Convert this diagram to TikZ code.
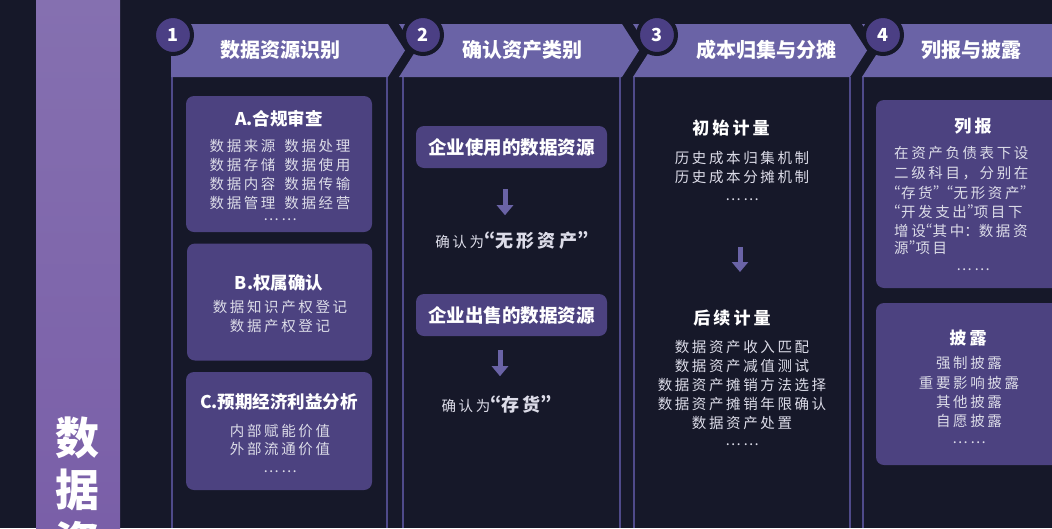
\documentclass[tikz,border=0pt]{standalone}
\usepackage{fontspec}
\setmainfont{Noto Sans CJK SC}
\newfontfamily\spaced{Noto Sans CJK SC}[LetterSpace=18]
\newfontfamily\pq{Noto Sans CJK SC}[LetterSpace=50,CharacterWidth=Proportional]
\newcommand\quoL{{\pq “}}
\newcommand\quoR{{\pq ”}}
\usetikzlibrary{arrows.meta}
\definecolor{bgc}{HTML}{161829}
\definecolor{barc}{HTML}{8570B0}
\definecolor{barlow}{HTML}{7A5FA8}
\definecolor{hdc}{HTML}{6A63A6}
\definecolor{cardc}{HTML}{4C4280}
\definecolor{numc}{HTML}{4B3F84}
\definecolor{linec}{HTML}{4F4A8A}
\definecolor{txtc}{HTML}{DCDCE8}

\begin{document}
\begin{tikzpicture}[x=1pt,y=-1pt,
    card/.style={fill=cardc,rounded corners=8pt,inner sep=0pt},
    num/.style={circle,fill=numc,draw=bgc,line width=4pt,minimum size=38pt,inner sep=0pt,
        text=white,font=\fontsize{18}{20}\selectfont\bfseries},
    head/.style={text=white,font=\fontsize{20}{24}\selectfont\bfseries},
    ttl/.style={text=white,font=\fontsize{17.5}{20}\selectfont\bfseries},
    sttl/.style={text=white,font=\spaced\fontsize{17}{20}\selectfont\bfseries},
    txt/.style={text=txtc,font=\spaced\fontsize{14.5}{19}\selectfont,inner sep=0pt},
    dn/.style={draw=hdc,line width=5pt,-{Triangle[width=16pt,length=10pt]}}]
    \useasboundingbox (0,0) rectangle (1052,528);
    \fill[bgc] (0,0) rectangle (1052,528);
    % left bar
    \shade[top color=barc,bottom color=barlow] (36,0) rectangle (120,528);
    \node[text=white,font=\fontsize{44}{52}\selectfont\bfseries,align=center,inner sep=0pt,anchor=north] (side) at (77.5,417) {数\\据\\资};
    % column lines
    \draw[linec,line width=1.5pt] (172,77)--(172,528);
    \draw[linec,line width=1.5pt] (387,77)--(387,528);
    \draw[linec,line width=1.5pt] (403,77)--(403,528);
    \draw[linec,line width=1.5pt] (620,77)--(620,528);
    \draw[linec,line width=1.5pt] (634,77)--(634,528);
    \draw[linec,line width=1.5pt] (850,77)--(850,528);
    \draw[linec,line width=1.5pt] (863,77)--(863,528);
    % headers
    \fill[hdc] (171,24)--(388,24)--(405,50.5)--(388,77)--(171,77)--cycle;
    \fill[hdc] (399,24)--(622,24)--(639,50.5)--(622,77)--(399,77)--(416,50.5)--cycle;
    \fill[hdc] (633,24)--(850,24)--(867,50.5)--(850,77)--(633,77)--(650,50.5)--cycle;
    \fill[hdc] (862,24)--(1060,24)--(1060,77)--(862,77)--(879,50.5)--cycle;
    \node[num] (n1) at (173,35) {1};
    \node[num] (n2) at (423,35) {2};
    \node[num] (n3) at (657,35) {3};
    \node[num] (n4) at (883,35) {4};
    \node[head] (h1) at (280,50) {数据资源识别};
    \node[head] (h2) at (522,50) {确认资产类别};
    \node[head] (h3) at (766,50) {成本归集与分摊};
    \node[head] (h4) at (971,50) {列报与披露};
    % column 1
    \node[card,minimum width=186pt,minimum height=136pt] (cardA) at (279,164) {};
    \node[ttl] (tA) at (279,119) {A.合规审查};
    \node[txt] (a1) at (280,146) {数据来源\hspace{9pt}数据处理};
    \node[txt] (a2) at (280,165) {数据存储\hspace{9pt}数据使用};
    \node[txt] (a3) at (280,184) {数据内容\hspace{9pt}数据传输};
    \node[txt] (a4) at (280,203) {数据管理\hspace{9pt}数据经营};
    \node[txt] (a5) at (280,220) {……};
    \node[card,minimum width=185pt,minimum height=117pt] (cardB) at (279.5,302) {};
    \node[ttl] (tB) at (279,283) {B.权属确认};
    \node[txt] (b1) at (280,307) {数据知识产权登记};
    \node[txt] (b2) at (280,326) {数据产权登记};
    \node[card,minimum width=186pt,minimum height=118pt] (cardC) at (279,431) {};
    \node[ttl] (tC) at (279,402) {C.预期经济利益分析};
    \node[txt] (c1) at (280,431) {内部赋能价值};
    \node[txt] (c2) at (280,449) {外部流通价值};
    \node[txt] (c3) at (280,472) {……};
    % column 2
    \node[card,minimum width=191pt,minimum height=42pt,ttl,font=\fontsize{18.5}{20}\selectfont\bfseries] (use) at (511.5,147) {企业使用的数据资源};
    \draw[dn] ([xshift=-6.5pt,yshift=-21pt]use.south) -- ++(0,26);
    \node[txt] (intang) at (512,240) {确认为{\bfseries\fontsize{18}{20}\selectfont\quoL 无形资产\quoR}};
    \node[card,minimum width=191pt,minimum height=42pt,ttl,font=\fontsize{18.5}{20}\selectfont\bfseries] (sell) at (511.5,315) {企业出售的数据资源};
    \draw[dn] ([xshift=-11.5pt,yshift=-14pt]sell.south) -- ++(0,26);
    \node[txt] (stock) at (497,404) {确认为{\bfseries\fontsize{18}{20}\selectfont\quoL 存货\quoR}};
    % column 3
    \node[sttl] (init) at (731,128) {初始计量};
    \node[txt] (i1) at (742,158) {历史成本归集机制};
    \node[txt] (i2) at (742,177) {历史成本分摊机制};
    \node[txt] (i3) at (742,200) {……};
    \draw[dn] ([xshift=-2pt,yshift=-47pt]i3.center) -- ++(0,25);
    \node[sttl] (later) at (732,318) {后续计量};
    \node[txt] (l1) at (742,347) {数据资产收入匹配};
    \node[txt] (l2) at (742,366) {数据资产减值测试};
    \node[txt] (l3) at (742,385) {数据资产摊销方法选择};
    \node[txt] (l4) at (742,404) {数据资产摊销年限确认};
    \node[txt] (l5) at (742,423) {数据资产处置};
    \node[txt] (l6) at (742,445) {……};
    % column 4
    \node[card,minimum width=188pt,minimum height=188pt] (cardR) at (970,194) {};
    \node[sttl] (rep) at (973,126) {列报};
    \node[txt,anchor=west] (r1) at (894,153) {在资产负债表下设};
    \node[txt,anchor=west] (r2) at (894,173) {二级科目，分别在};
    \node[txt,anchor=west] (r3) at (894,193) {\quoL 存货\quoR\quoL 无形资产\quoR};
    \node[txt,anchor=west] (r4) at (894,212) {\quoL 开发支出\quoR 项目下};
    \node[txt,anchor=west] (r5) at (894,231) {增设\quoL 其中{\pq ：}数据资};
    \node[txt,anchor=west] (r6) at (894,248) {源\quoR 项目};
    \node[txt] (r7) at (973,270) {……};
    \node[card,minimum width=188pt,minimum height=162pt] (cardD) at (970,384) {};
    \node[sttl] (disc) at (968,338) {披露};
    \node[txt] (d1) at (969,363) {强制披露};
    \node[txt] (d2) at (969,383) {重要影响披露};
    \node[txt] (d3) at (969,402) {其他披露};
    \node[txt] (d4) at (969,421) {自愿披露};
    \node[txt] (d5) at (969,443) {……};
\end{tikzpicture}
\end{document}
